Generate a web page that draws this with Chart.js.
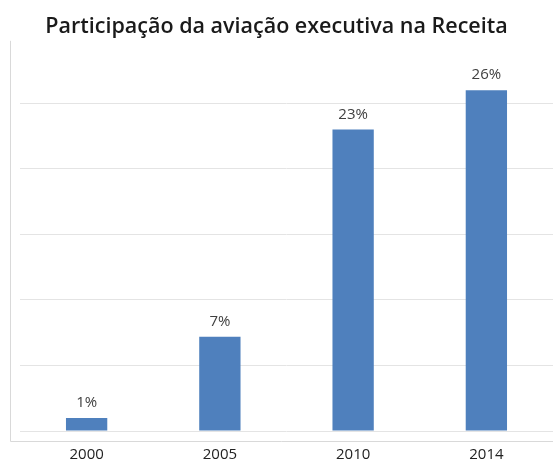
<!DOCTYPE html>
<html lang="pt">
<head>
  <meta charset="UTF-8">
  <title>Participação da aviação executiva na Receita</title>
  <script src="https://cdn.jsdelivr.net/npm/chart.js"></script>
  <style>
    body {
      margin: 0;
      background: #fff;
    }
    #wrap {
      width: 553px;
      height: 460px;
    }
  </style>
</head>
<body>
  <div id="wrap"><canvas id="chart" width="553" height="460"></canvas></div>

  <script>
    const anos = ['2000', '2005', '2010', '2014'];
    const participacao = [1, 7.2, 23, 26];
    const rotulos = ['1%', '7%', '23%', '26%'];

    // moldura cinza em volta da area do grafico
    const moldura = {
      id: 'moldura',
      beforeDraw(chart) {
        const ctx = chart.ctx;
        const a = chart.chartArea;
        ctx.save();
        ctx.strokeStyle = '#d9d9d9';
        ctx.lineWidth = 1;
        ctx.beginPath();
        ctx.moveTo(10.5, a.top + 3);
        ctx.lineTo(10.5, a.bottom + 10.5);
        ctx.lineTo(chart.width, a.bottom + 10.5);
        ctx.stroke();
        ctx.restore();
      }
    };

    // valores em cima das barras
    const rotulosBarras = {
      id: 'rotulosBarras',
      afterDatasetsDraw(chart) {
        const ctx = chart.ctx;
        const meta = chart.getDatasetMeta(0);
        ctx.save();
        ctx.font = '15px "Open Sans", sans-serif';
        ctx.fillStyle = '#404040';
        ctx.textAlign = 'center';
        ctx.textBaseline = 'middle';
        meta.data.forEach((bar, i) => {
          ctx.fillText(rotulos[i], bar.x, bar.y - 15);
        });
        ctx.restore();
      }
    };

    new Chart(document.getElementById('chart').getContext('2d'), {
      type: 'bar',
      data: {
        labels: anos,
        datasets: [{
          data: participacao,
          backgroundColor: '#4f80bd',
          categoryPercentage: 1,
          barPercentage: 0.31
        }]
      },
      options: {
        responsive: false,
        animation: false,
        plugins: {
          legend: { display: false },
          tooltip: { enabled: false },
          title: {
            display: true,
            text: 'Participação da aviação executiva na Receita',
            color: '#1a1a1a',
            font: { family: 'Open Sans', size: 21.5, weight: '600' },
            padding: { top: 14, bottom: -2 }
          }
        },
        scales: {
          x: {
            grid: { display: false },
            border: { display: false },
            afterFit(scale) { scale.height = 29; },
            ticks: {
              color: '#222',
              font: { family: 'Open Sans', size: 15 },
              padding: 7
            }
          },
          y: {
            min: 0,
            max: 30,
            afterFit(scale) { scale.width = 20; },
            ticks: { display: false, stepSize: 5 },
            border: { display: false },
            grid: {
              drawTicks: false,
              color: c => c.tick.value === 30 ? 'rgba(0,0,0,0)' : '#e4e4e4'
            }
          }
        }
      },
      plugins: [moldura, rotulosBarras]
    });
  </script>
</body>
</html>
